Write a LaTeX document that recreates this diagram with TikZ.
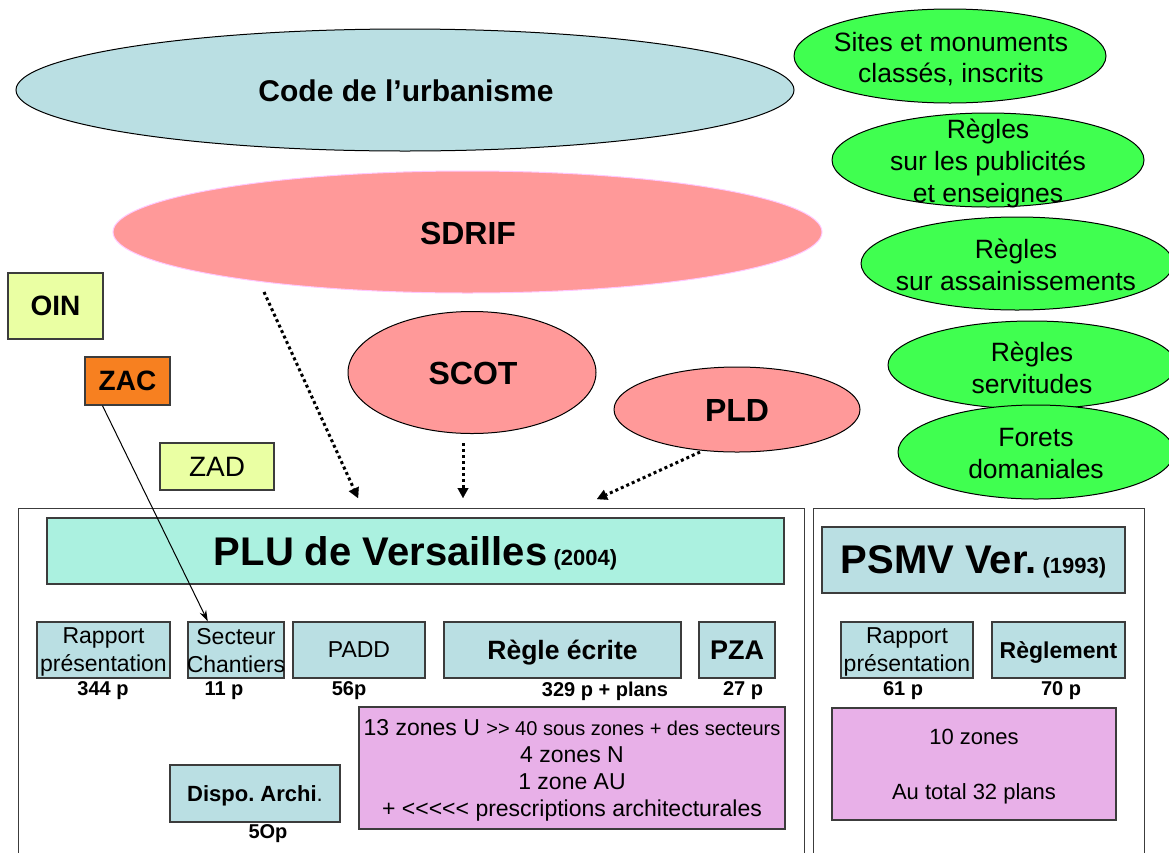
\documentclass[tikz,border=0pt]{standalone}
\usepackage{fontspec}
\setmainfont{Liberation Sans}
\frenchspacing
\usetikzlibrary{shapes.geometric,arrows.meta,calc}
\definecolor{lblue}{RGB}{186,223,227}
\definecolor{mint}{RGB}{171,241,224}
\definecolor{rose}{RGB}{255,153,153}
\definecolor{roseline}{RGB}{255,200,255}
\definecolor{vert}{RGB}{64,255,80}
\definecolor{jaune}{RGB}{234,255,163}
\definecolor{orangez}{RGB}{247,128,32}
\definecolor{lavande}{RGB}{232,176,232}
\definecolor{bord}{RGB}{60,60,60}
\newcommand{\fs}[2]{\fontsize{#1}{#2}\selectfont}
\begin{document}
\begin{tikzpicture}[x=1pt,y=-1pt,
 ell/.style={ellipse,draw=black,line width=1pt,inner sep=0pt},
 txt/.style={align=center,inner sep=0pt,text depth=0pt},
 box/.style={rectangle,draw=bord,line width=1.3pt,inner sep=0pt,align=center,text depth=0pt},
 outer/.style={rectangle,draw=bord,line width=1pt,inner sep=0pt,anchor=north west},
 pg/.style={font=\bfseries\fs{20}{24},inner sep=0pt,text depth=0pt},
 dots/.style={line width=3pt,dash pattern=on 3pt off 3pt,-{Triangle[length=10pt,width=11pt,line width=0.1pt]}},
]
\useasboundingbox (0,0) rectangle (1169,852);
\clip (0,0) rectangle (1169,852);
\fill[white] (0,0) rectangle (1169,852);

% top ellipses
\node[ell, fill=lblue, minimum width=778pt, minimum height=122pt] (code) at (405,90) {};
\node[txt, font=\bfseries\fs{30}{36}] (codet) at (406,91) {Code de l’urbanisme};

\node[ell, draw=roseline, fill=rose, minimum width=709pt, minimum height=122pt] (sdrif) at (467.5,232) {};
\node[txt, font=\bfseries\fs{32}{38}] (sdrift) at (468,233) {SDRIF};

% green ellipses
\node[ell, fill=vert, minimum width=312pt, minimum height=94pt] (sites) at (950,56) {};
\node[txt, font=\fs{26.5}{31}] (sitest) at (951,57.5) {Sites et monuments\\classés, inscrits};

\node[ell, fill=vert, minimum width=312pt, minimum height=94pt] (pub) at (988,160) {};
\node[txt, font=\fs{26.5}{32}] (pubt) at (988,161) {Règles\\sur les publicités\\et enseignes};

\node[ell, fill=vert, minimum width=312pt, minimum height=93pt] (ass) at (1017,263.5) {};
\node[txt, font=\fs{26.5}{32}] (asst) at (1016,265) {Règles\\sur assainissements};

\node[ell, fill=vert, minimum width=288pt, minimum height=88pt] (serv) at (1032,365) {};
\node[ell, fill=vert, minimum width=276pt, minimum height=94pt] (forets) at (1036,452) {};
\node[txt, font=\fs{26.5}{32}] (servt) at (1032,368) {Règles\\servitudes};
\node[txt, font=\fs{26.5}{32}] (forett) at (1036,453.5) {Forets\\domaniales};

% SCOT, PLD
\node[ell, fill=rose, minimum width=248pt, minimum height=122pt] (scot) at (472,372.5) {};
\node[txt, font=\bfseries\fs{32}{38}] (scott) at (473,373) {SCOT};
\node[ell, fill=rose, minimum width=246pt, minimum height=85pt] (pld) at (737,409.5) {};
\node[txt, font=\bfseries\fs{32}{38}] (pldt) at (737,410) {PLD};

% small boxes
\node[box, fill=jaune, minimum width=95pt, minimum height=66pt, font=\bfseries\fs{28}{32}] (oin) at (55.5,306) {OIN};
\node[box, fill=orangez, minimum width=85pt, minimum height=48pt, font=\bfseries\fs{28}{32}] (zac) at (127.5,381) {ZAC};
\node[box, fill=jaune, minimum width=114pt, minimum height=47pt, font=\fs{28}{32}] (zad) at (217,466.5) {ZAD};

% outer frames
\node[outer, minimum width=786pt, minimum height=380pt] (plubox) at (18,508) {};
\node[outer, minimum width=331pt, minimum height=380pt] (psmvbox) at (813,508) {};

% PLU content
\node[box, fill=mint, minimum width=737pt, minimum height=66pt] (plu) at (415.5,551) {{\bfseries\fs{40}{44}PLU de Versailles}{\bfseries\fs{22}{26} (2004)}};
\node[box, fill=lblue, minimum width=133pt, minimum height=56pt, font=\fs{23}{28}] (rap) at (103.5,650) {Rapport\\présentation};
\node[box, fill=lblue, minimum width=96pt, minimum height=56pt, font=\fs{23}{28}] (sect) at (236,650) {\makebox[0pt]{Secteur}\\\makebox[0pt]{Chantiers}};
\node[box, fill=lblue, minimum width=132pt, minimum height=56pt, font=\fs{23}{28}] (padd) at (359,650) {PADD};
\node[box, fill=lblue, minimum width=237pt, minimum height=56pt, font=\bfseries\fs{26.5}{30}] (regle) at (562.5,650) {Règle écrite};
\node[box, fill=lblue, minimum width=76pt, minimum height=56pt, font=\bfseries\fs{27}{30}] (pza) at (737,650) {PZA};
\node[box, fill=lavande, minimum width=426pt, minimum height=122pt, font=\fs{23}{27}] (zones) at (572,768)
 {13 zones U {\fs{20}{27}>{}> 40 sous zones + des secteurs}\\4 zones N\\1 zone AU\\+ <{}<{}<{}<{}< prescriptions architecturales};
\node[box, fill=lblue, minimum width=170pt, minimum height=57pt, font=\fs{22}{26}] (dispo) at (255,793.5) {{\bfseries Dispo. Archi}.};

\node[pg] (p344) at (103,689) {344 p};
\node[pg] (p11) at (224,689) {11 p};
\node[pg] (p56) at (349,689) {56p};
\node[pg] (p329) at (605,689) {329 p + plans};
\node[pg] (p27) at (743,689) {27 p};
\node[pg] (p50) at (268,832) {5Op};

% PSMV content
\node[box, fill=lblue, minimum width=303pt, minimum height=66pt] (psmv) at (973.5,560) {{\bfseries\fs{40}{44}PSMV Ver.}{\bfseries\fs{22}{26} (1993)}};
\node[box, fill=lblue, minimum width=132pt, minimum height=56pt, font=\fs{23}{28}] (rap2) at (907,650) {Rapport\\présentation};
\node[box, fill=lblue, minimum width=133pt, minimum height=56pt, font=\bfseries\fs{23}{28}] (reglt) at (1058.5,650) {Règlement};
\node[box, fill=lavande, minimum width=284pt, minimum height=112pt, font=\fs{22}{27.5}] (zones2) at (974,764) {10 zones\\ \\Au total 32 plans};
\node[pg] (p61) at (903,689) {61 p};
\node[pg] (p70) at (1061,689) {70 p};

% connectors
\coordinate (a1s) at (264,292);
\coordinate (a1e) at (358,498);
\coordinate (a2s) at (463,443);
\coordinate (a2e) at (463,498);
\coordinate (a3s) at (700,452);
\coordinate (a3e) at (597,499);
\draw[dots] (a1s) -- (a1e);
\draw[dots] (a2s) -- (a2e);
\draw[dots] (a3s) -- (a3e);

\draw[line width=1pt,-{Stealth[length=11pt,width=7pt]}] ($(zac.south west)!0.21!(zac.south east)$) -- ($(sect.north west)!0.21!(sect.north east)$);
\end{tikzpicture}
\end{document}
